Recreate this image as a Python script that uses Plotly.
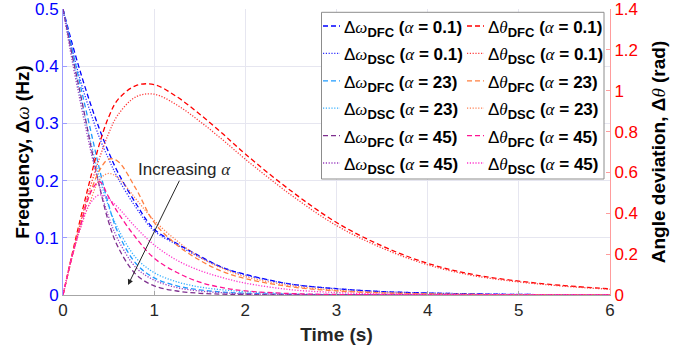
import plotly.graph_objects as go

# ---------------- data ----------------
t = [0, 0.1, 0.2, 0.3, 0.4, 0.5, 0.6, 0.8, 1.0, 1.25, 1.5, 1.75, 2.0, 2.5, 3.0, 3.5, 4.0, 4.5, 5.0, 5.5, 6.0]

w_dfc_01 = [0.5, 0.44, 0.385, 0.335, 0.29, 0.25, 0.215, 0.16, 0.115, 0.09, 0.068, 0.048, 0.036, 0.019, 0.011, 0.006, 0.0035, 0.002, 0.001, 0.0006, 0.0003]
w_dsc_01 = [0.5, 0.43, 0.37, 0.32, 0.275, 0.238, 0.205, 0.153, 0.112, 0.088, 0.066, 0.048, 0.035, 0.019, 0.011, 0.006, 0.0035, 0.002, 0.001, 0.0006, 0.0003]
w_dfc_23 = [0.5, 0.43, 0.36, 0.29, 0.22, 0.158, 0.11, 0.055, 0.03, 0.016, 0.009, 0.005, 0.003, 0.001, 0.0005, 0.0003, 0.0002, 0.0001, 0.0001, 0.0, 0.0]
w_dsc_23 = [0.5, 0.42, 0.34, 0.27, 0.205, 0.155, 0.117, 0.065, 0.039, 0.023, 0.014, 0.009, 0.006, 0.002, 0.001, 0.0005, 0.0003, 0.0002, 0.0001, 0.0, 0.0]
w_dfc_45 = [0.5, 0.42, 0.345, 0.265, 0.19, 0.128, 0.085, 0.036, 0.016, 0.007, 0.003, 0.0015, 0.001, 0.0003, 0.0001, 0.0, 0.0, 0.0, 0.0, 0.0, 0.0]
w_dsc_45 = [0.5, 0.41, 0.33, 0.255, 0.19, 0.137, 0.098, 0.048, 0.026, 0.013, 0.007, 0.004, 0.002, 0.001, 0.0004, 0.0002, 0.0001, 0.0, 0.0, 0.0, 0.0]

th_dfc_01 = [0, 0.2, 0.39, 0.57, 0.74, 0.87, 0.955, 1.025, 1.03, 0.97, 0.885, 0.79, 0.69, 0.51, 0.355, 0.24, 0.155, 0.1, 0.068, 0.046, 0.03]
th_dsc_01 = [0, 0.19, 0.37, 0.53, 0.67, 0.79, 0.88, 0.97, 0.983, 0.93, 0.85, 0.76, 0.665, 0.49, 0.34, 0.23, 0.148, 0.095, 0.064, 0.043, 0.028]
th_dfc_23 = [0, 0.19, 0.36, 0.5, 0.61, 0.665, 0.655, 0.52, 0.355, 0.245, 0.17, 0.115, 0.08, 0.04, 0.02, 0.01, 0.005, 0.0025, 0.001, 0.0005, 0.0003]
th_dsc_23 = [0, 0.185, 0.34, 0.46, 0.565, 0.595, 0.575, 0.47, 0.365, 0.265, 0.185, 0.13, 0.09, 0.046, 0.023, 0.012, 0.006, 0.003, 0.0015, 0.0008, 0.0004]
th_dfc_45 = [0, 0.19, 0.35, 0.5, 0.555, 0.48, 0.405, 0.28, 0.18, 0.11, 0.063, 0.036, 0.02, 0.007, 0.0025, 0.001, 0.0005, 0.0002, 0.0001, 0.0, 0.0]
th_dsc_45 = [0, 0.19, 0.34, 0.45, 0.49, 0.47, 0.43, 0.33, 0.245, 0.17, 0.12, 0.085, 0.058, 0.026, 0.012, 0.005, 0.002, 0.001, 0.0005, 0.0002, 0.0001]

alphas = ["0.1", "23", "45"]
x_ticks = [0, 1, 2, 3, 4, 5, 6]
y_ticks = [0, 0.1, 0.2, 0.3, 0.4, 0.5]
y2_ticks = [0, 0.2, 0.4, 0.6, 0.8, 1.0, 1.2, 1.4]
y2_ticklabels = ["0", "0.2", "0.4", "0.6", "0.8", "1", "1.2", "1.4"]

# ---------------- styles ----------------
DASH = "5px,3px"
DOT = "1.2px,1.6px"
col_w = {"0.1": ("#0000FF", "#2E2EFF"), "23": ("#1E9BFF", "#33AFFF"), "45": ("#7E2F8E", "#9A3FC0")}
col_th = {"0.1": ("#FF0000", "#FF3A3A"), "23": ("#FF7F3F", "#FF7F50"), "45": ("#FF1493", "#FF33CC")}

w_data = {"0.1": (w_dfc_01, w_dsc_01), "23": (w_dfc_23, w_dsc_23), "45": (w_dfc_45, w_dsc_45)}
th_data = {"0.1": (th_dfc_01, th_dsc_01), "23": (th_dfc_23, th_dsc_23), "45": (th_dfc_45, th_dsc_45)}

FONT = "Liberation Sans, Arial, sans-serif"
SERIF = "Liberation Serif, Times New Roman, serif"


def greek(ch):
    return f"<span style='font-family:{SERIF}'><i>{ch}</i></span>"


def lname(sym, sub, a):
    return (f"Δ{greek(sym)}<sub><span style='font-size:13px'><b>{sub}</b></span></sub> "
            f"<b>(</b>{greek('α')}<b> = {a})</b>")


fig = go.Figure()
legend_items = []  # (column, name, color, dash)
for a in alphas:
    for k, (sub, dash) in enumerate([("DFC", DASH), ("DSC", DOT)]):
        fig.add_trace(go.Scatter(
            x=t, y=w_data[a][k], mode="lines", line_shape="spline",
            line=dict(color=col_w[a][k], width=1.3, dash=dash),
            name=lname("ω", sub, a), showlegend=False, yaxis="y"))
        legend_items.append((0, lname("ω", sub, a), col_w[a][k], dash))
for a in alphas:
    for k, (sub, dash) in enumerate([("DFC", DASH), ("DSC", DOT)]):
        fig.add_trace(go.Scatter(
            x=t, y=th_data[a][k], mode="lines", line_shape="spline",
            line=dict(color=col_th[a][k], width=1.3, dash=dash),
            name=lname("θ", sub, a), showlegend=False, yaxis="y2"))
        legend_items.append((1, lname("θ", sub, a), col_th[a][k], dash))

# ---------------- legend (drawn as shapes + text) ----------------
L, R, T, B = 63, 78, 9, 59
W, H = 688, 354
PW, PH = W - L - R, H - T - B


def px2x(px):
    return (px - L) / PW


def py2y(py):
    return (H - B - py) / PH


shapes = [dict(type="rect", xref="paper", yref="paper",
               x0=px2x(321.5), x1=px2x(604), y0=py2y(179), y1=py2y(12.3),
               line=dict(color="#8C8C8C", width=1), fillcolor="white", layer="above")]
annotations = []
col_line_x = [(323, 340), (467, 484)]
col_text_x = [342, 486]
row_counter = [0, 0]
for col, name, color, dash in legend_items:
    r = row_counter[col]
    row_counter[col] += 1
    ry = 26 + 27.4 * r
    x0, x1 = col_line_x[col]
    shapes.append(dict(type="line", xref="paper", yref="paper",
                       x0=px2x(x0), x1=px2x(x1), y0=py2y(ry), y1=py2y(ry),
                       line=dict(color=color, width=1.3, dash=dash), layer="above"))
    annotations.append(dict(xref="paper", yref="paper", x=px2x(col_text_x[col]), y=py2y(ry + 3),
                            xanchor="left", yanchor="middle", showarrow=False, text=name,
                            font=dict(family=FONT, size=17, color="#000000")))

annotations.append(dict(
    x=0.713, y=0.0175, xref="x", yref="y", ax=1.336, ay=0.219, axref="x", ayref="y",
    text=f"Increasing {greek('α')}", showarrow=True, arrowhead=2, arrowsize=1.1,
    arrowwidth=1, arrowcolor="#262626",
    font=dict(size=17, color="#262626", family=FONT),
))

fig.update_layout(
    width=W, height=H,
    margin=dict(l=L, r=R, t=T, b=B),
    paper_bgcolor="white", plot_bgcolor="white",
    font=dict(family=FONT),
    showlegend=False,
    xaxis=dict(
        range=[0, 6], tickvals=x_ticks, showgrid=True, gridcolor="#E6E6F0", gridwidth=1,
        zeroline=False, showline=True, linecolor="#A6A6A6", linewidth=1, automargin=False,
        ticks="inside", ticklen=4, tickcolor="#A6A6A6", ticklabeloverflow="allow",
        tickfont=dict(size=17, color="#262626", family=FONT),
        title=dict(text="<b>Time (s)</b>", font=dict(size=19, color="#262626", family=FONT), standoff=8),
    ),
    yaxis=dict(
        range=[0, 0.5], tickvals=y_ticks, showgrid=True, gridcolor="#E6E6F0", gridwidth=1,
        zeroline=False, showline=True, linecolor="#9C9CFF", linewidth=1, automargin=False,
        ticks="inside", ticklen=4, tickcolor="#9C9CFF", ticklabeloverflow="allow",
        tickfont=dict(size=17, color="#0000FF", family=FONT),
        title=dict(text=f"<b>Frequency, Δ</b>{greek('ω')}<b> (Hz)</b>",
                   font=dict(size=19, color="#000000", family=FONT), standoff=0),
    ),
    yaxis2=dict(
        range=[0, 1.4], tickvals=y2_ticks, ticktext=y2_ticklabels, overlaying="y", side="right",
        showgrid=False, zeroline=False, showline=True, linecolor="#FF9C9C", linewidth=1,
        automargin=False, ticks="inside", ticklen=4, tickcolor="#FF9C9C", ticklabeloverflow="allow",
        tickfont=dict(size=17, color="#FF0000", family=FONT),
        title=dict(text=f"<b>Angle deviation, Δ</b>{greek('θ')}<b> (rad)</b>",
                   font=dict(size=19, color="#000000", family=FONT), standoff=14),
    ),
    shapes=shapes,
    annotations=annotations,
)

fig.write_html("out.html", config={"displayModeBar": False},
               post_script="document.body.style.margin='0';")
